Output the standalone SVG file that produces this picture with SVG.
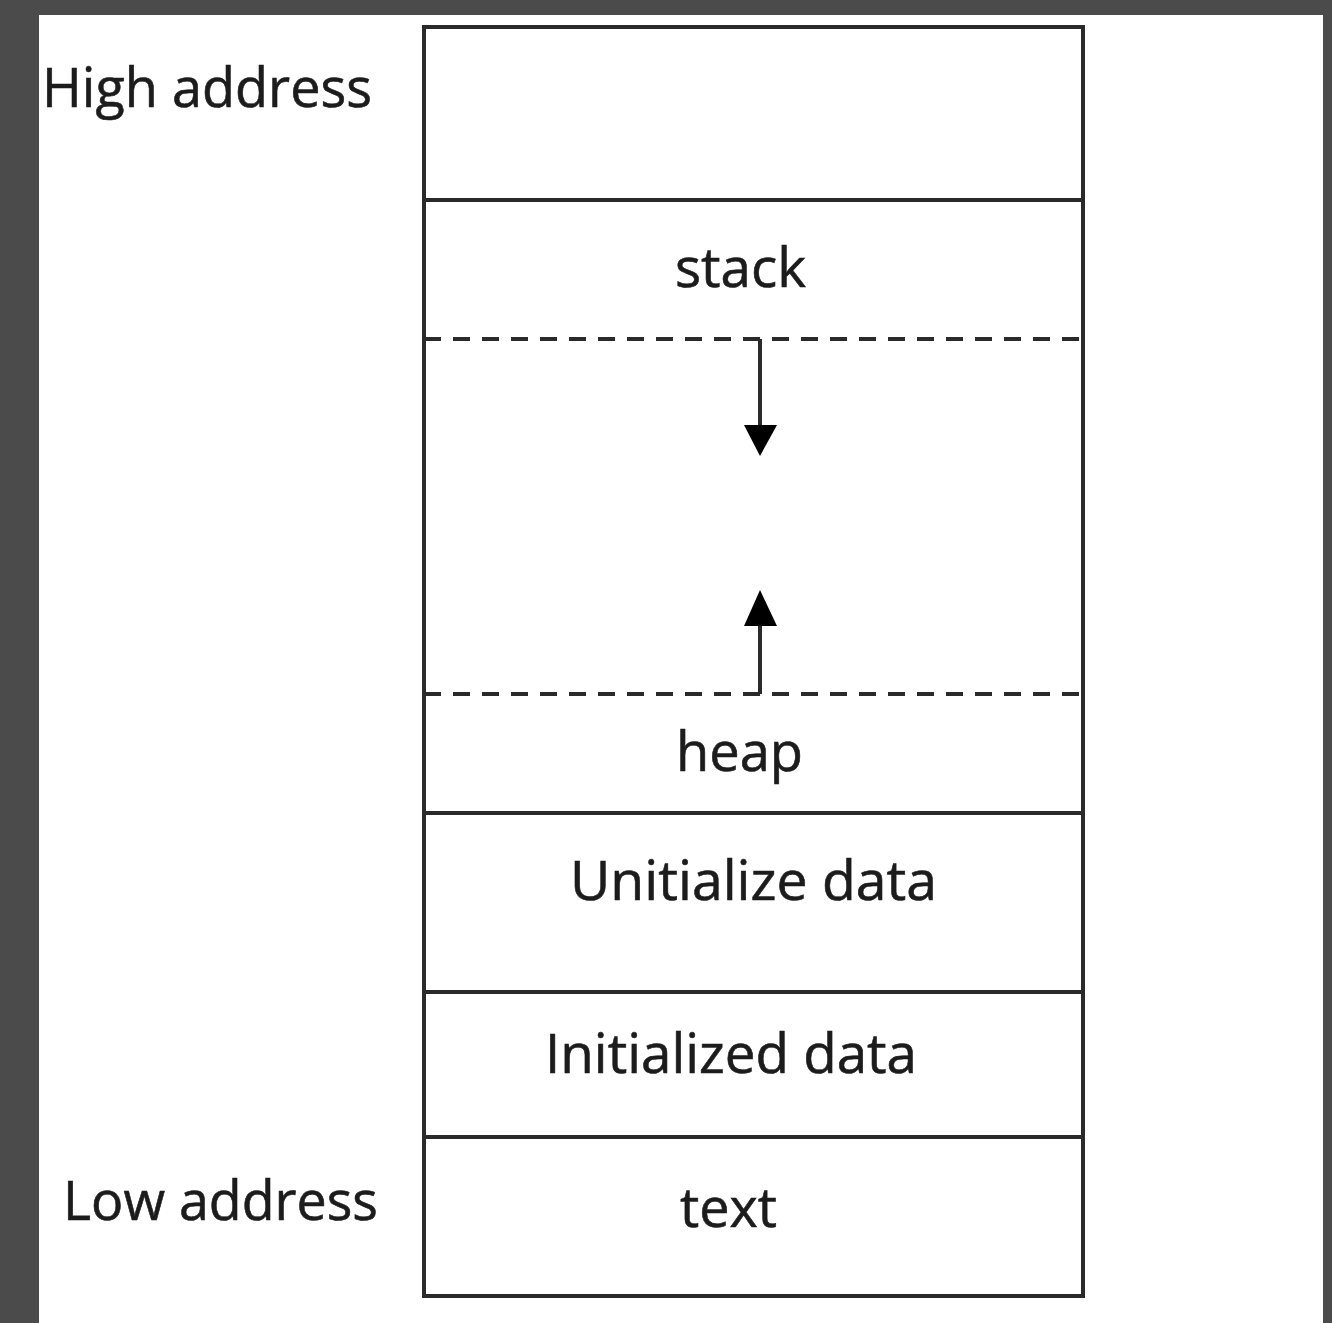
<svg xmlns="http://www.w3.org/2000/svg" width="1332" height="1323" viewBox="0 0 1332 1323">
<style>
.seg{fill:none;stroke:#2a2a2a;stroke-width:4}
.dash{fill:none;stroke:#2a2a2a;stroke-width:4;stroke-dasharray:17 12}
.lbl{font-family:"Open Sans","Noto Sans",sans-serif;font-size:54px;fill:#1c1c1c;stroke:#1c1c1c;stroke-width:0.6}
.arr{stroke:#2a2a2a;stroke-width:4;fill:none}
.head{fill:#000}
</style>
<rect x="0" y="0" width="1332" height="1323" fill="#4b4b4b"/>
<rect x="39" y="15" width="1284" height="1308" fill="#ffffff"/>
<g id="label-high"><text class="lbl" x="42" y="107" textLength="330" lengthAdjust="spacingAndGlyphs">High address</text></g>
<g id="label-low"><text class="lbl" x="63" y="1220" textLength="315" lengthAdjust="spacingAndGlyphs">Low address</text></g>
<g id="seg-top"><rect class="seg" x="424" y="27" width="659" height="173"/></g>
<g id="seg-stack"><path class="seg" d="M424 200 V339 M1083 200 V339"/><text class="lbl" x="675" y="287" textLength="131" lengthAdjust="spacingAndGlyphs">stack</text></g>
<g id="seg-free"><path class="seg" d="M424 339 V694 M1083 339 V694"/><line class="dash" x1="424" y1="339" x2="1083" y2="339"/><line class="dash" x1="424" y1="694" x2="1083" y2="694"/></g>
<g id="seg-heap"><path class="seg" d="M424 694 V813 H1083 V694"/><text class="lbl" x="676" y="771" textLength="127" lengthAdjust="spacingAndGlyphs">heap</text></g>
<g id="seg-bss"><path class="seg" d="M424 813 V992 H1083 V813"/><text class="lbl" x="570" y="900" textLength="367" lengthAdjust="spacingAndGlyphs">Unitialize data</text></g>
<g id="seg-data"><path class="seg" d="M424 992 V1137 H1083 V992"/><text class="lbl" x="545" y="1073" textLength="372" lengthAdjust="spacingAndGlyphs">Initialized data</text></g>
<g id="seg-text"><path class="seg" d="M424 1137 V1296 H1083 V1137"/><text class="lbl" x="680" y="1227" textLength="97" lengthAdjust="spacingAndGlyphs">text</text></g>
<g id="connectors">
<path class="arr" d="M760 339 V428"/>
<polygon class="head" points="744,425 777,425 760,456"/>
<path class="arr" d="M760 694 V622"/>
<polygon class="head" points="744,626 777,626 760,590"/>
</g>
</svg>
